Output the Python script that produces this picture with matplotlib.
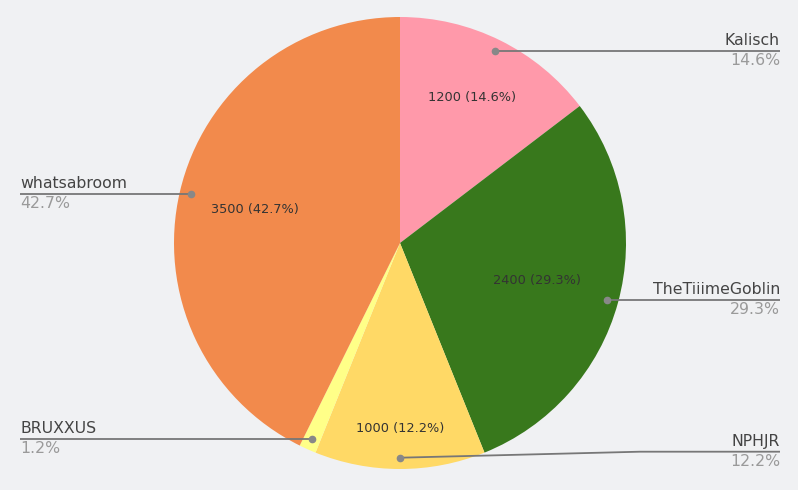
import numpy as np
import matplotlib
matplotlib.use("Agg")
import matplotlib.pyplot as plt

plt.rcParams["font.family"] = ["DejaVu Sans"]

names = ["Kalisch", "TheTiiimeGoblin", "NPHJR", "BRUXXUS", "whatsabroom"]
values = [1200, 2400, 1000, 100, 3500]
colors = ["#FF99AA", "#38781C", "#FFD966", "#FFFF88", "#F28A4C"]

W, H = 798, 490
cx, cy, R = 400, H - 243, 226
bg = "#F0F1F3"

fig = plt.figure(figsize=(W / 100, H / 100), dpi=100, facecolor=bg)
ax = fig.add_axes([0, 0, 1, 1])
ax.set_facecolor(bg)

wedges, _ = ax.pie(values, colors=colors, startangle=90, counterclock=False,
                   center=(cx, cy), radius=R, frame=True,
                   wedgeprops=dict(linewidth=0))
ax.set_xlim(0, W)
ax.set_ylim(0, H)
ax.axis("off")

total = sum(values)
inner_r = [0.72, 0.63, 0.82, None, 0.66]
side = ["r", "r", "r", "l", "l"]

for w, name, v, ir, s in zip(wedges, names, values, inner_r, side):
    pct = 100 * v / total
    mid = np.deg2rad((w.theta1 + w.theta2) / 2)
    if ir is not None:
        ax.text(cx + ir * R * np.cos(mid), cy + ir * R * np.sin(mid),
                f"{v} ({pct:.1f}%)", ha="center", va="center",
                fontsize=9.3, color="#333333")
    dx = cx + 0.95 * R * np.cos(mid)
    dy = cy + 0.95 * R * np.sin(mid)
    xend = 780 if s == "r" else 20
    if name == "NPHJR":
        xs, ys = [dx, 640, xend], [dy, dy + 6, dy + 6]
    else:
        xs, ys = [dx, xend], [dy, dy]
    ax.plot(xs, ys, color="#777777", lw=1.3, solid_capstyle="butt")
    ax.plot(dx, dy, "o", ms=4.5, color="#888888")
    ha = "right" if s == "r" else "left"
    ax.text(xend, ys[-1] + 3, name, ha=ha, va="bottom", fontsize=11.3, color="#444444")
    ax.text(xend, ys[-1] - 2, f"{pct:.1f}%", ha=ha, va="top", fontsize=11.3, color="#9A9A9A")

fig.savefig("out.png", dpi=100, facecolor=bg)
